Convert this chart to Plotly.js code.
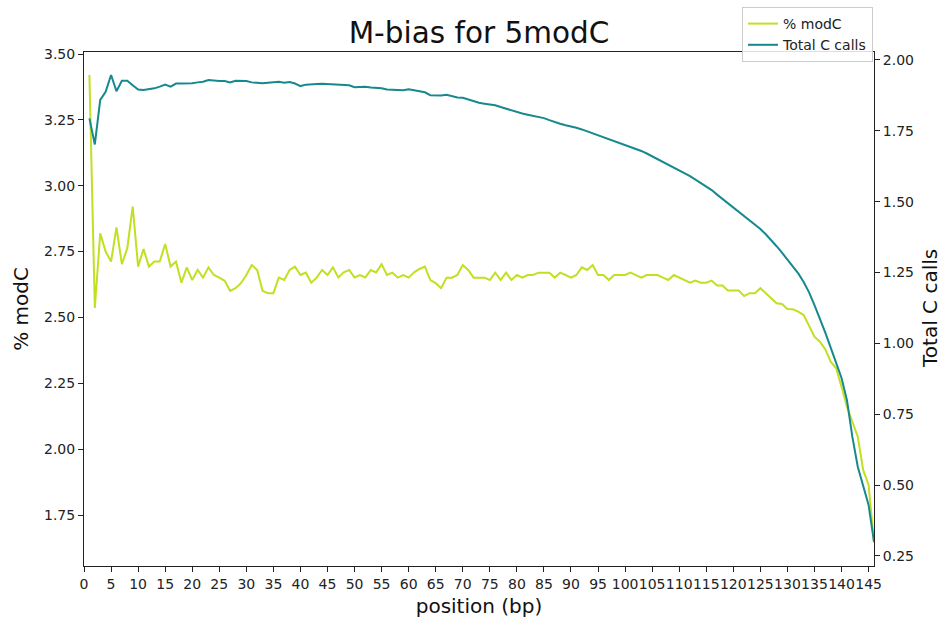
<!DOCTYPE html>
<html>
<head>
<meta charset="utf-8">
<script src="https://cdn.plot.ly/plotly-3.0.1.min.js"></script>
<style>
  html, body { margin: 0; padding: 0; background: #fff; }
  #chart { width: 942px; height: 621px; }
</style>
</head>
<body>
<div id="chart"></div>
<script>
// position along read (bp)
const positions = [
  1,2,3,4,5,6,7,8,9,10,11,12,13,14,15,16,17,18,19,20,
  21,22,23,24,25,26,27,28,29,30,31,32,33,34,35,36,37,38,39,40,
  41,42,43,44,45,46,47,48,49,50,51,52,53,54,55,56,57,58,59,60,
  61,62,63,64,65,66,67,68,69,70,71,72,73,74,75,76,77,78,79,80,
  81,82,83,84,85,86,87,88,89,90,91,92,93,94,95,96,97,98,99,100,
  101,102,103,104,105,106,107,108,109,110,111,112,113,114,115,116,117,118,119,120,
  121,122,123,124,125,126,127,128,129,130,131,132,133,134,135,136,137,138,139,140,
  141,142,143,144,145,146
];

// % modC (left axis)
const pctModC = [
  3.420,2.536,2.819,2.750,2.712,2.842,2.702,2.763,2.921,2.693,
  2.760,2.693,2.712,2.712,2.779,2.693,2.712,2.632,2.690,2.642,
  2.680,2.651,2.690,2.661,2.651,2.639,2.601,2.611,2.630,2.661,
  2.699,2.680,2.601,2.592,2.592,2.651,2.642,2.680,2.693,2.661,
  2.670,2.632,2.651,2.680,2.661,2.690,2.652,2.671,2.680,2.652,
  2.661,2.652,2.680,2.671,2.702,2.661,2.670,2.651,2.661,2.651,
  2.671,2.684,2.693,2.642,2.630,2.611,2.651,2.651,2.661,2.699,
  2.680,2.651,2.651,2.651,2.642,2.670,2.642,2.670,2.642,2.661,
  2.651,2.661,2.661,2.670,2.670,2.670,2.651,2.670,2.661,2.651,
  2.661,2.690,2.680,2.699,2.661,2.661,2.642,2.661,2.661,2.661,
  2.670,2.661,2.651,2.661,2.661,2.661,2.651,2.642,2.661,2.651,
  2.642,2.632,2.640,2.632,2.632,2.640,2.621,2.621,2.602,2.602,
  2.602,2.581,2.592,2.592,2.611,2.592,2.573,2.554,2.551,2.532,
  2.531,2.522,2.509,2.468,2.427,2.408,2.379,2.332,2.307,2.237,
  2.161,2.104,2.047,1.921,1.864,1.645
];

// Total C calls (right axis)
const totalCCalls = [
  1.794,1.702,1.859,1.888,1.947,1.890,1.927,1.927,1.911,1.896,
  1.894,1.896,1.900,1.906,1.913,1.906,1.917,1.917,1.917,1.918,
  1.921,1.923,1.929,1.927,1.926,1.926,1.921,1.927,1.926,1.926,
  1.921,1.920,1.918,1.920,1.921,1.923,1.920,1.922,1.917,1.908,
  1.913,1.915,1.915,1.916,1.915,1.914,1.913,1.911,1.911,1.904,
  1.904,1.906,1.903,1.902,1.900,1.896,1.895,1.894,1.893,1.897,
  1.894,1.891,1.886,1.876,1.875,1.875,1.877,1.873,1.868,1.867,
  1.861,1.854,1.849,1.846,1.843,1.840,1.834,1.828,1.823,1.817,
  1.811,1.807,1.803,1.799,1.795,1.788,1.781,1.775,1.770,1.766,
  1.761,1.755,1.748,1.742,1.734,1.728,1.721,1.714,1.707,1.701,
  1.694,1.686,1.679,1.670,1.660,1.651,1.641,1.632,1.622,1.612,
  1.601,1.590,1.578,1.566,1.554,1.541,1.525,1.510,1.495,1.480,
  1.465,1.450,1.435,1.420,1.404,1.385,1.365,1.343,1.320,1.297,
  1.272,1.247,1.217,1.180,1.135,1.088,1.038,0.985,0.931,0.878,
  0.800,0.670,0.565,0.495,0.430,0.300
];

const seriesNames = ['% modC', 'Total C calls'];
const titleText = 'M-bias for 5modC';
const xLabel = 'position (bp)';
const yLabel = '% modC';
const y2Label = 'Total C calls';

const FONT = 'DejaVu Sans, sans-serif';
const colModC = '#c2df22';
const colCalls = '#16898f';

const traces = [
  {
    x: positions, y: pctModC, name: seriesNames[0], type: 'scatter', mode: 'lines',
    line: { color: colModC, width: 2 }, yaxis: 'y'
  },
  {
    x: positions, y: totalCCalls, name: seriesNames[1], type: 'scatter', mode: 'lines',
    line: { color: colCalls, width: 2 }, yaxis: 'y2'
  }
];

const axisCommon = {
  showline: true, linecolor: '#222', linewidth: 1,
  ticks: 'outside', ticklen: 5, tickwidth: 1, tickcolor: '#222',
  showgrid: false, zeroline: false,
  tickfont: { family: FONT, size: 14, color: '#222' },
  automargin: false
};

const layout = {
  width: 942, height: 621,
  paper_bgcolor: '#fff', plot_bgcolor: '#fff',
  margin: { l: 84, r: 68, t: 52, b: 55, pad: 0, autoexpand: false },
  font: { family: FONT, color: '#222' },
  title: {
    text: titleText, font: { family: FONT, size: 29.5, color: '#111' },
    x: 0.5, xref: 'paper', xanchor: 'center',
    y: 1 - 33 / 621, yref: 'container', yanchor: 'middle'
  },
  xaxis: Object.assign({}, axisCommon, {
    range: [0, 146], tickmode: 'linear', tick0: 0, dtick: 5, tickangle: 0,
    mirror: true,
    title: { text: xLabel, font: { family: FONT, size: 20, color: '#111' }, standoff: 8 }
  }),
  yaxis: Object.assign({}, axisCommon, {
    range: [1.5564, 3.5076], tickmode: 'linear', tick0: 1.75, dtick: 0.25,
    tickformat: '.2f',
    title: { text: yLabel, font: { family: FONT, size: 20, color: '#111' }, standoff: 10 }
  }),
  yaxis2: Object.assign({}, axisCommon, {
    overlaying: 'y', side: 'right', anchor: 'x',
    range: [0.2147, 2.0282], tickmode: 'linear', tick0: 0.25, dtick: 0.25,
    tickformat: '.2f'
  }),
  annotations: [{
    text: y2Label, textangle: -90, showarrow: false,
    xref: 'paper', yref: 'paper', x: (930 - 84) / 790, y: 0.5,
    xanchor: 'center', yanchor: 'middle',
    font: { family: FONT, size: 20, color: '#111' }
  }],
  showlegend: true,
  legend: {
    x: 873 / 942, xanchor: 'right', xref: 'container',
    y: 1 - 7 / 621, yanchor: 'top', yref: 'container',
    bgcolor: 'rgba(255,255,255,0.85)', bordercolor: '#cccccc', borderwidth: 1,
    font: { family: FONT, size: 14, color: '#222' },
    itemwidth: 30, tracegroupgap: 0
  }
};

Plotly.newPlot('chart', traces, layout, { displayModeBar: false, staticPlot: true });
</script>
</body>
</html>
